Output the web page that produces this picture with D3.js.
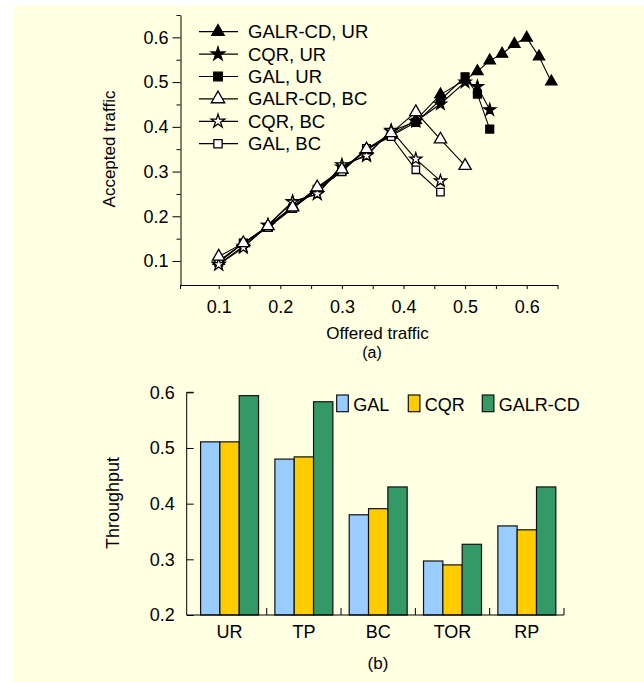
<!DOCTYPE html>
<html>
<head>
<meta charset="utf-8">
<script src="https://cdn.jsdelivr.net/npm/d3@7"></script>
<style>
  body { margin: 0; background: #fff; }
  svg { display: block; font-family: "Liberation Sans", Arial, sans-serif; }
</style>
</head>
<body>
<div id="chart"></div>
<script>
// data for (a)
const offered = [0.1, 0.14, 0.18, 0.22, 0.26, 0.3, 0.34, 0.38, 0.42, 0.46, 0.5, 0.52, 0.54, 0.56, 0.58, 0.6, 0.62, 0.64];
const galrcdUR = [0.1, 0.14, 0.178, 0.222, 0.262, 0.303, 0.348, 0.382, 0.415, 0.472, 0.505, 0.524, 0.548, 0.563, 0.585, 0.599, 0.557, 0.501];
const cqrUR = [0.093, 0.133, 0.18, 0.233, 0.25, 0.31, 0.338, 0.39, 0.412, 0.451, 0.5, 0.49, 0.438];
const galUR = [0.098, 0.14, 0.175, 0.218, 0.26, 0.3, 0.35, 0.38, 0.41, 0.46, 0.512, 0.473, 0.395];
const galrcdBC = [0.11, 0.14, 0.178, 0.22, 0.265, 0.305, 0.35, 0.386, 0.433, 0.372, 0.313];
const cqrBC = [0.092, 0.13, 0.18, 0.232, 0.25, 0.315, 0.335, 0.392, 0.328, 0.279];
const galBC = [0.097, 0.14, 0.175, 0.218, 0.26, 0.3, 0.352, 0.378, 0.304, 0.254];

// data for (b)
const patterns = ["UR", "TP", "BC", "TOR", "RP"];
const algos = ["GAL", "CQR", "GALR-CD"];
const galThr = [0.511, 0.48, 0.38, 0.297, 0.36];
const cqrThr = [0.511, 0.484, 0.391, 0.29, 0.353];
const galrcdThr = [0.594, 0.583, 0.43, 0.327, 0.43];

const width = 644, height = 682;
const ink = "#000";
const font = "'Liberation Sans', Arial, sans-serif";

const svg = d3.select("#chart")
    .append("svg")
    .attr("width", width)
    .attr("height", height);

// cream panel
svg.append("rect")
    .attr("x", 13).attr("y", 5)
    .attr("width", width - 13).attr("height", height - 5)
    .attr("fill", "#ffffe1");

// ---------- (a) line chart ----------
const xA = d3.scaleLinear().domain([0.038, 0.65]).range([180.5, 557.5]);
const yA = d3.scaleLinear().domain([0.0464, 0.65]).range([285, 15]);

const lineSeries = [
    { name: "GAL, UR", vals: galUR, sym: d3.symbolSquare, size: 62, fill: ink },
    { name: "CQR, UR", vals: cqrUR, sym: d3.symbolStar, size: 45, fill: ink },
    { name: "GALR-CD, UR", vals: galrcdUR, sym: d3.symbolTriangle, size: 55, fill: ink },
    { name: "GAL, BC", vals: galBC, sym: d3.symbolSquare, size: 56, fill: "#fff" },
    { name: "CQR, BC", vals: cqrBC, sym: d3.symbolStar, size: 45, fill: "#fff" },
    { name: "GALR-CD, BC", vals: galrcdBC, sym: d3.symbolTriangle, size: 66, fill: "#fff" }
];

// axes
svg.append("g")
    .attr("transform", "translate(180.5,0)")
    .call(d3.axisLeft(yA).tickValues([0.1, 0.2, 0.3, 0.4, 0.5, 0.6])
        .tickSize(8).tickSizeOuter(0).tickPadding(4).tickFormat(d3.format(".1f")));
svg.append("g")
    .attr("transform", "translate(180.5,0)")
    .call(d3.axisLeft(yA).tickValues([0.15, 0.25, 0.35, 0.45, 0.55, 0.65])
        .tickSize(4).tickSizeOuter(0).tickFormat(""))
    .select(".domain").remove();

svg.append("g")
    .attr("transform", "translate(0,285)")
    .call(d3.axisBottom(xA).tickValues(d3.range(0.1, 0.66, 0.05))
        .tickSize(4).tickSizeOuter(0).tickPadding(11)
        .tickFormat(d => Math.abs(d * 10 - Math.round(d * 10)) < 1e-6 ? d3.format(".1f")(d) : ""));

svg.append("line")
    .attr("x1", 180.5).attr("x2", 180.5)
    .attr("y1", 285).attr("y2", 289)
    .attr("stroke", ink);

// lines and markers
const line = d3.line().x(d => xA(d[0])).y(d => yA(d[1]));
lineSeries.forEach(s => {
    const pts = s.vals.map((v, i) => [offered[i], v]);
    svg.append("path")
        .datum(pts)
        .attr("d", line)
        .attr("fill", "none")
        .attr("stroke", ink)
        .attr("stroke-width", 1.1);
    svg.append("g").selectAll("path")
        .data(pts)
        .enter()
        .append("path")
        .attr("transform", d => `translate(${xA(d[0])},${yA(d[1])})`)
        .attr("d", d3.symbol(s.sym, s.size))
        .attr("fill", s.fill)
        .attr("stroke", ink)
        .attr("stroke-width", 1.3);
});

// legend
const legendOrder = [2, 1, 0, 5, 4, 3];
const legA = svg.append("g");
legendOrder.forEach((idx, i) => {
    const s = lineSeries[idx];
    const ly = 31.7 + i * 22.4;
    legA.append("line")
        .attr("x1", 199).attr("x2", 238)
        .attr("y1", ly).attr("y2", ly)
        .attr("stroke", ink).attr("stroke-width", 1.2);
    legA.append("path")
        .attr("transform", `translate(218,${ly})`)
        .attr("d", d3.symbol(s.sym, s.size + 12))
        .attr("fill", s.fill)
        .attr("stroke", ink)
        .attr("stroke-width", 1.3);
    legA.append("text")
        .attr("x", 248).attr("y", ly + 6.5)
        .attr("font-size", 18.5)
        .text(s.name);
});

svg.append("text")
    .attr("transform", "translate(115,149) rotate(-90)")
    .attr("text-anchor", "middle")
    .attr("font-size", 17)
    .text("Accepted traffic");
svg.append("text")
    .attr("x", 377.5).attr("y", 339)
    .attr("text-anchor", "middle")
    .attr("font-size", 17)
    .text("Offered traffic");
svg.append("text")
    .attr("x", 372).attr("y", 358)
    .attr("text-anchor", "middle")
    .attr("font-size", 16)
    .text("(a)");

// ---------- (b) bar chart ----------
const x0 = d3.scaleBand().domain(patterns).range([192.4, 564]).paddingInner(0.22).paddingOuter(0.11);
const x1 = d3.scaleBand().domain(algos).range([0, x0.bandwidth()]);
const yB = d3.scaleLinear().domain([0.2, 0.6]).range([615, 392.3]);
const colors = { "GAL": "#99ccff", "CQR": "#ffcc00", "GALR-CD": "#339966" };
const thr = { "GAL": galThr, "CQR": cqrThr, "GALR-CD": galrcdThr };

const groups = svg.append("g").selectAll("g")
    .data(patterns)
    .enter()
    .append("g")
    .attr("transform", d => `translate(${x0(d)},0)`);
groups.selectAll("rect")
    .data((p, i) => algos.map(a => ({ algo: a, value: thr[a][i] })))
    .enter()
    .append("rect")
    .attr("x", d => x1(d.algo))
    .attr("y", d => yB(d.value))
    .attr("width", x1.bandwidth())
    .attr("height", d => yB(0.2) - yB(d.value))
    .attr("fill", d => colors[d.algo])
    .attr("stroke", "#111")
    .attr("stroke-width", 1.2);

svg.append("g")
    .attr("transform", "translate(186.7,0)")
    .call(d3.axisRight(yB).ticks(4).tickSize(7).tickSizeOuter(0).tickFormat(""))
    .call(g => g.select(".domain").attr("d", `M0,${yB(0.6)}H7M0,${yB(0.6)}V${yB(0.2)}`));
svg.append("g")
    .attr("transform", "translate(186.7,0)")
    .call(d3.axisLeft(yB).ticks(4).tickSize(0).tickPadding(12).tickFormat(d3.format(".1f")))
    .call(g => g.select(".domain").remove());

// category axis
svg.append("g")
    .attr("transform", "translate(0,615)")
    .call(d3.axisBottom(x0).tickSize(0).tickPadding(10))
    .call(g => g.select(".domain").attr("d", `M186.7,0H564`));
svg.append("g").selectAll("line")
    .data(patterns)
    .enter()
    .append("line")
    .attr("x1", d => x0(d) + x0.bandwidth() + x0.step() * x0.paddingInner() / 2)
    .attr("x2", d => x0(d) + x0.bandwidth() + x0.step() * x0.paddingInner() / 2)
    .attr("y1", 615).attr("y2", 608)
    .attr("stroke", ink);

// legend
const legX = [336.7, 408.3, 482.3];
algos.forEach((a, i) => {
    svg.append("rect")
        .attr("x", legX[i]).attr("y", 395)
        .attr("width", 11.6).attr("height", 16.7)
        .attr("fill", colors[a])
        .attr("stroke", "#111").attr("stroke-width", 1.2);
    svg.append("text")
        .attr("x", legX[i] + 16.5).attr("y", 411)
        .attr("font-size", 18)
        .text(a);
});

svg.append("text")
    .attr("transform", "translate(119,503) rotate(-90)")
    .attr("text-anchor", "middle")
    .attr("font-size", 18)
    .text("Throughput");
svg.append("text")
    .attr("x", 378).attr("y", 669)
    .attr("text-anchor", "middle")
    .attr("font-size", 17)
    .text("(b)");

// axis text styling
svg.selectAll("g").attr("font-family", font);
svg.selectAll(".tick text").attr("font-size", 18).attr("fill", ink);
svg.selectAll(".domain, .tick line").attr("stroke", ink);
</script>
</body>
</html>
